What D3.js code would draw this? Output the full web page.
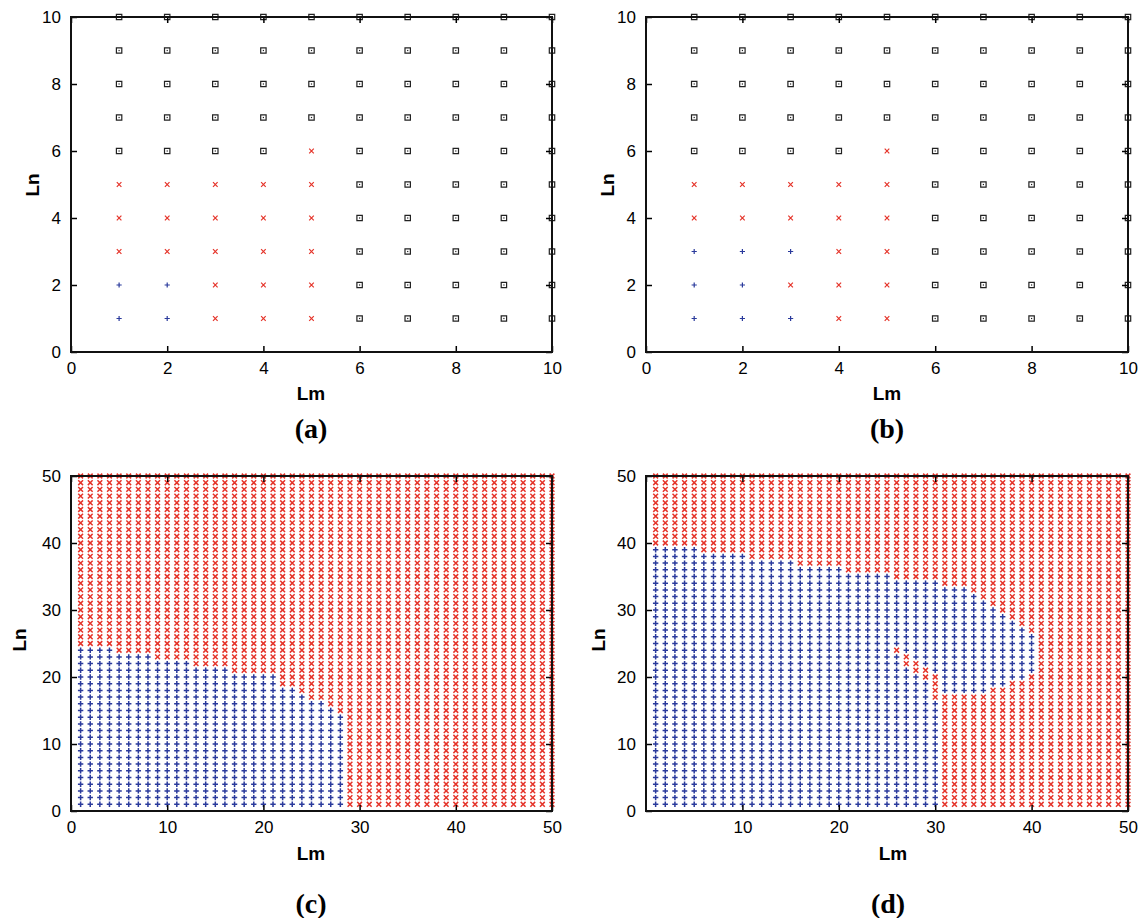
<!DOCTYPE html>
<html><head><meta charset="utf-8">
<script src="https://cdn.jsdelivr.net/npm/d3@7"></script>
<style>
body{margin:0;background:#fff}
</style>
</head><body>
<svg id="chart" width="1145" height="918"></svg>
<script>
// ---------- tick labels ----------
const ticksSmall = [0, 2, 4, 6, 8, 10];
const ticksLarge = [0, 10, 20, 30, 40, 50];
const ticksLargeNoZero = [10, 20, 30, 40, 50];

// ---------- panel (a) / (b): class per cell, rows Ln=1..10, columns Lm=1..10 ----------
// b = blue plus, r = red cross, s = black square
const gridA = [
  "bbrrrsssss", // Ln=1
  "bbrrrsssss", // Ln=2
  "rrrrrsssss", // Ln=3
  "rrrrrsssss", // Ln=4
  "rrrrrsssss", // Ln=5
  "ssssrsssss", // Ln=6
  "ssssssssss", // Ln=7
  "ssssssssss", // Ln=8
  "ssssssssss", // Ln=9
  "ssssssssss"  // Ln=10
];
const gridB = [
  "bbbrrsssss", // Ln=1
  "bbrrrsssss", // Ln=2
  "bbbrrsssss", // Ln=3
  "rrrrrsssss", // Ln=4
  "rrrrrsssss", // Ln=5
  "ssssrsssss", // Ln=6
  "ssssssssss", // Ln=7
  "ssssssssss", // Ln=8
  "ssssssssss", // Ln=9
  "ssssssssss"  // Ln=10
];

// ---------- panel (c): highest blue Ln for each Lm = 1..50 (0 = none) ----------
const blueTopC = [24,24,24,24,23,23,23,23,22,22,22,22,21,21,21,21,20,20,20,20,
                  20,18,18,17,16,16,15,14,0,0,0,0,0,0,0,0,0,0,0,0,
                  0,0,0,0,0,0,0,0,0,0];

// ---------- panel (d): blue band [bottom, top] for each Lm = 1..50 (0 = none) ----------
const blueTopD = [39,39,39,39,39,38,38,38,38,38,37,37,37,37,37,36,36,36,36,36,
                  35,35,35,35,35,34,34,34,34,34,33,33,33,32,31,30,29,28,27,26,
                  0,0,0,0,0,0,0,0,0,0];
const blueBottomD = [1,1,1,1,1,1,1,1,1,1,1,1,1,1,1,1,1,1,1,1,
                     1,1,1,1,1,1,1,1,1,1,18,18,18,18,18,19,19,20,20,21,
                     0,0,0,0,0,0,0,0,0,0];
// red "crack" inside the blue band: [Lm, from Ln, to Ln]
const crackD = [[26,24,24],[27,22,23],[28,21,22],[29,20,21],[30,17,20]];

// ---------- build point lists ----------
function fromGrid(grid){
  const pts=[];
  grid.forEach((row,j)=>{ row.split("").forEach((c,i)=>pts.push({m:i+1,n:j+1,t:c})); });
  return pts;
}
function fromTops(tops){
  const pts=[];
  for(let m=1;m<=50;m++) for(let n=1;n<=50;n++)
    pts.push({m,n,t: n<=tops[m-1] ? "b":"r"});
  return pts;
}
function fromBand(bot,top,crack){
  const pts=[];
  for(let m=1;m<=50;m++) for(let n=1;n<=50;n++){
    let t = (top[m-1]>0 && n>=bot[m-1] && n<=top[m-1]) ? "b":"r";
    crack.forEach(c=>{ if(c[0]===m && n>=c[1] && n<=c[2]) t="r"; });
    pts.push({m,n,t});
  }
  return pts;
}

const panels = [
  {pts: fromGrid(gridA), max:10, ticks:ticksSmall, xticks:ticksSmall, L:71, R:552, T:17, B:352,
   lnX:32, lnY:185, lmX:311, lmY:393, lab:"(a)", labX:311, labY:428, big:false},
  {pts: fromGrid(gridB), max:10, ticks:ticksSmall, xticks:ticksSmall, L:646, R:1128, T:17, B:352,
   lnX:607, lnY:185, lmX:887, lmY:393, lab:"(b)", labX:887, labY:428, big:false},
  {pts: fromTops(blueTopC), max:50, ticks:ticksLarge, xticks:ticksLarge, L:71, R:552, T:476, B:811,
   lnX:19, lnY:640, lmX:311, lmY:853, lab:"(c)", labX:311, labY:903, big:true},
  {pts: fromBand(blueBottomD, blueTopD, crackD), max:50, ticks:ticksLarge, xticks:ticksLargeNoZero, L:646, R:1128, T:476, B:811,
   lnX:598, lnY:640, lmX:893, lmY:853, lab:"(d)", labX:888, labY:903, big:true}
];

const RED="#e5342a", BLUE="#2a3a9c", BLACK="#222";
const SANS="'Liberation Sans',Arial,Helvetica,sans-serif";
const SERIF="'Liberation Serif','Times New Roman',Times,serif";
const svg=d3.select("#chart");

panels.forEach(p=>{
  const x=d3.scaleLinear().domain([0,p.max]).range([p.L,p.R]);
  const y=d3.scaleLinear().domain([0,p.max]).range([p.B,p.T]);
  const g=svg.append("g");
  const h = p.big ? 2.4 : 2.3;
  const hp = p.big ? 2.7 : 2.6;
  const hs = 2.7;
  const shape = {
    r:`M${-h},${-h}L${h},${h}M${-h},${h}L${h},${-h}`,
    b:`M${-hp},0H${hp}M0,${-hp}V${hp}`,
    s:`M${-hs},${-hs}H${hs}V${hs}H${-hs}Z`
  };
  const col={r:RED,b:BLUE,s:BLACK};

  // markers
  const mk=g.append("g");
  mk.selectAll("path").data(p.pts).join("path")
    .attr("transform",d=>`translate(${x(d.m)},${y(d.n)})`)
    .attr("d",d=>shape[d.t])
    .attr("fill","none")
    .attr("stroke",d=>col[d.t])
    .attr("stroke-width",d=>d.t==="s"?1.2:(p.big?1.5:1.2));
  mk.selectAll("rect.dot").data(p.pts.filter(d=>d.t==="s")).join("rect")
    .attr("class","dot")
    .attr("x",d=>x(d.m)-0.6).attr("y",d=>y(d.n)-0.6)
    .attr("width",1.2).attr("height",1.2).attr("fill",BLACK);

  // axes (inward ticks on all four sides)
  const ax=[
    g.append("g").attr("transform",`translate(0,${p.B})`).call(d3.axisBottom(x).tickValues(p.xticks).tickSize(-6).tickPadding(10).tickFormat(d3.format("d"))),
    g.append("g").attr("transform",`translate(0,${p.T})`).call(d3.axisTop(x).tickValues(p.ticks).tickSize(-6).tickFormat("")),
    g.append("g").attr("transform",`translate(${p.L},0)`).call(d3.axisLeft(y).tickValues(p.ticks).tickSize(-6).tickPadding(10).tickFormat(d3.format("d"))),
    g.append("g").attr("transform",`translate(${p.R},0)`).call(d3.axisRight(y).tickValues(p.ticks).tickSize(-6).tickFormat(""))
  ];
  ax.forEach(a=>{
    a.select(".domain").remove();
    a.selectAll(".tick line").attr("stroke","#000").attr("stroke-width",1.5);
    a.selectAll(".tick text").style("font-size","17px").attr("fill","#000")
      .style("font-family",SANS);
  });

  // frame
  g.append("rect").attr("x",p.L).attr("y",p.T).attr("width",p.R-p.L).attr("height",p.B-p.T)
    .attr("fill","none").attr("stroke","#111").attr("stroke-width",2);

  // axis titles
  g.append("text").attr("x",p.lmX).attr("y",p.lmY).attr("text-anchor","middle")
    .attr("dominant-baseline","central").style("font-family",SANS).style("font-size","19px").style("font-weight","bold").text("Lm");
  g.append("text").attr("transform",`translate(${p.lnX},${p.lnY}) rotate(-90)`).attr("text-anchor","middle")
    .attr("dominant-baseline","central").style("font-family",SANS).style("font-size","19px").style("font-weight","bold").text("Ln");
  g.append("text").attr("x",p.labX).attr("y",p.labY).attr("text-anchor","middle")
    .attr("dominant-baseline","central").style("font-size","28px").style("font-weight","bold")
    .style("font-family",SERIF).text(p.lab);
});
</script>
</body></html>
